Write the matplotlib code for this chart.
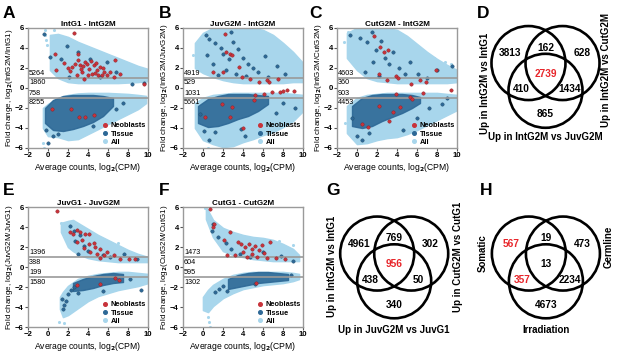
import matplotlib
matplotlib.use('Agg')
import matplotlib.pyplot as plt
from matplotlib.lines import Line2D
from matplotlib.patches import Circle

plt.rcParams['font.family'] = ['Liberation Sans', 'DejaVu Sans']
plt.rcParams['font.weight'] = 'bold'
plt.rcParams['mathtext.default'] = 'bf'

## --- Colours
c_all = '#a8d6ec'
c_tis = '#2d6896'
c_tis_edge = '#1f4a68'
c_neo = '#c8323a'
c_frame = '#9a9a9a'

## --- MA plot data
# A: IntG1 - IntG2M
a_title = 'IntG1 - IntG2M'
a_ylab = 'IntG2M/IntG1'
a_counts = [5264, 1860, 758, 8255]
a_up_x = [0.2, 1, 2, 3, 4, 5, 6, 7, 8, 9, 10]
a_up_top = [5.3, 5.4, 5.1, 4.6, 4.2, 3.8, 3.4, 3.0, 2.6, 2.2, 1.9]
a_up_bot = [1.8, 1.0, 0.6, 0.5, 0.5, 0.5, 0.5, 0.5, 0.55, 0.6, 0.7]
a_lo_x = [-0.5, 0, 1, 2, 3, 4, 5, 6, 7, 8, 9, 9.8]
a_lo_top = [-2.0, -1.6, -1.0, -0.7, -0.55, -0.5, -0.5, -0.5, -0.55, -0.6, -0.7, -0.8]
a_lo_bot = [-4.0, -4.8, -4.9, -5.2, -5.1, -4.6, -4.1, -3.6, -3.1, -2.6, -2.1, -1.5]
a_tis_x = [-0.3, 0.5, 1.5, 2.5, 3.5, 4.5, 5.5, 6.5]
a_tis_top = [-2.0, -1.2, -0.8, -0.7, -0.7, -0.7, -0.8, -1.0]
a_tis_bot = [-3.5, -4.2, -4.3, -4.1, -3.8, -3.4, -2.8, -1.8]
a_all_px = [-0.3, -0.3, -0.2, -0.1, -0.5, -0.4, 0.6, 9.5, 9.9]
a_all_py = [5.8, 5.3, 4.8, 4.3, -5.5, -6.0, 5.8, 1.6, 1.2]
a_tis_px = [-0.4, 0.2, 1.9, 4.2, 5.9, 5.2, 9.6, 2.1, 8.4, 1.3, 3.0, 6.8,
            0.0, 0.5, -0.2, 4.5, 6.8, 7.5, 1.0]
a_tis_py = [5.4, 3.1, 4.2, 2.9, 2.6, 1.1, 0.5, 1.1, 0.4, 2.9, 3.6, 1.6,
            -5.5, -4.8, -4.2, -3.8, -2.1, -1.5, -4.6]
a_neo_x = [2.6, 0.7, 3.0, 0.8, 1.6, 2.4, 3.2, 3.7, 4.1, 4.6, 4.9, 5.2, 5.6, 4.4, 3.4,
           2.9, 5.9, 6.7, 6.6, 7.2, 9.6, 3.9, 3.6, 2.0, 4.3, 5.0, 3.0, 2.2, 2.7, 3.3,
           4.0, 4.7, 5.4, 6.2, 3.5, 4.8, 5.5, 0.4, 2.3, 3.1, 3.7, 4.6]
a_neo_y = [5.5, 3.4, 3.4, 1.8, 2.5, 2.1, 2.3, 2.6, 1.9, 2.3, 1.8, 2.1, 1.6, 1.4, 1.6,
           1.3, 1.3, 2.8, 1.1, 1.4, 0.4, 2.4, 0.9, 2.0, 2.7, 1.3, 2.8, 1.7, 2.4, 1.9,
           1.3, 1.5, 1.3, 1.6, 2.2, 2.5, 2.0, -2.1, -2.1, -2.9, -2.9, -2.7]

# B: JuvG2M - IntG2M
b_title = 'JuvG2M - IntG2M'
b_ylab = 'IntG2M/JuvG2M'
b_counts = [4919, 529, 1031, 5661]
b_up_x = [-0.8, 0, 1, 2, 3, 4, 5, 6, 7, 8, 9, 10]
b_up_top = [4.5, 5.5, 6.0, 6.0, 6.0, 6.0, 6.0, 5.8, 5.3, 4.5, 3.6, 2.5]
b_up_bot = [2.0, 1.5, 1.1, 0.8, 0.6, 0.5, 0.5, 0.5, 0.5, 0.5, 0.6, 0.6]
b_lo_x = [-0.8, 0, 1, 2, 3, 4, 5, 6, 7, 8, 9, 10]
b_lo_top = [-1.5, -1.0, -0.7, -0.6, -0.5, -0.5, -0.5, -0.5, -0.5, -0.5, -0.6, -0.7]
b_lo_bot = [-4.0, -5.2, -5.6, -5.9, -5.8, -5.4, -5.1, -4.7, -4.4, -3.9, -3.3, -2.3]
b_tis_x = [-0.5, 0.5, 1.5, 2.5, 3.5, 4.5, 5.5, 6.5]
b_tis_top = [-1.8, -1.1, -0.8, -0.6, -0.6, -0.6, -0.7, -0.8]
b_tis_bot = [-3.5, -3.9, -3.8, -3.5, -3.1, -2.8, -2.3, -1.6]
b_all_px = [-0.6, -0.3, 0.1, 0.5, 1.0, -1.0, 0.5, 9.6]
b_all_py = [2.9, 3.8, 4.6, 5.3, 6.0, 3.3, -6.0, 1.8]
b_tis_px = [0.3, 0.6, 1.2, 1.8, 2.0, 2.6, 3.0, 3.5, 4.0, 4.5, 5.0, 1.0, 0.4, 2.3, 3.3,
            4.3, 5.5, 6.5, 7.4, 8.2, 2.8, 6.2, 1.5, 0.1, 0.6, 1.2, 3.8, 4.2, 7.3, 8.0,
            9.2, -0.3]
b_tis_py = [5.3, 4.9, 4.5, 4.0, 3.4, 2.9, 4.6, 3.9, 3.0, 2.4, 2.0, 2.4, 3.3, 1.8, 1.4,
            1.2, 1.6, 1.1, 2.2, 1.4, 5.6, 3.2, 1.3, -4.3, -5.2, -4.4, -4.1, -4.8, -2.5,
            -1.5, -2.0, -2.6]
b_neo_x = [2.2, 2.3, 2.7, 2.9, 3.6, 2.0, 1.0, 4.7, 5.6, 6.4, 6.1, 6.9, 7.7, 8.4, 9.1,
           5.2, 5.1, 1.9, 2.9, 0.2, 2.7, 4.0, 7.5, 8.0, 6.6, 3.9]
b_neo_y = [5.4, 3.6, 3.4, 3.3, 2.1, 1.6, 1.6, 0.9, 0.6, 0.8, -0.6, -0.4, -0.4, -0.2, -0.3,
           -0.7, -1.2, -1.6, -1.9, -2.9, -2.9, -4.0, 0.9, -0.3, 0.6, 1.1]

# C: CutG2M - IntG2M
c_title = 'CutG2M - IntG2M'
c_ylab = 'IntG2M/CutG2M'
c_counts = [4603, 360, 903, 4453]
c_up_x = [-1, 0, 1, 2, 3, 4, 5, 6, 7, 8, 9, 10]
c_up_top = [5.5, 6.0, 6.0, 6.0, 6.0, 5.8, 5.2, 4.4, 3.6, 2.9, 2.3, 1.8]
c_up_bot = [3.0, 1.8, 1.0, 0.7, 0.6, 0.5, 0.5, 0.5, 0.5, 0.5, 0.5, 0.6]
c_lo_x = [-1, 0, 1, 2, 3, 4, 5, 6, 7, 8, 9, 10]
c_lo_top = [-1.8, -1.0, -0.7, -0.6, -0.5, -0.5, -0.5, -0.5, -0.5, -0.5, -0.6, -0.7]
c_lo_bot = [-4.5, -5.6, -5.5, -5.2, -5.0, -4.9, -4.6, -4.2, -3.7, -3.2, -2.7, -2.2]
c_tis_x = [-0.5, 0.5, 1.5, 2.5, 3.5, 4.5, 5.5, 6.3]
c_tis_top = [-1.8, -1.0, -0.7, -0.6, -0.6, -0.6, -0.7, -0.9]
c_tis_bot = [-3.8, -4.0, -3.8, -3.3, -2.9, -2.5, -2.0, -1.5]
c_all_px = [-1.3, -0.9, 7.7, 8.8, 9.4, -1.2]
c_all_py = [4.6, 5.6, 3.0, 2.6, 2.4, -3.5]
c_tis_px = [-0.7, 0.3, 1.0, 1.5, 1.9, 2.4, 2.8, 3.2, 3.6, 4.2, 4.8, 5.3, 6.1, 7.0, 8.0,
            9.5, 0.8, 1.6, 2.2, 0.0, 0.5, 1.2, 4.6, 6.0, 7.2, 8.5, 9.0, -0.5]
c_tis_py = [5.3, 5.0, 4.6, 5.6, 3.8, 4.7, 3.0, 2.4, 3.6, 2.0, 1.4, 2.6, 1.4, 1.0, 1.8,
            2.2, 1.6, 2.6, 1.2, -4.8, -5.2, -4.5, -4.2, -3.0, -2.0, -1.6, -1.0, -3.0]
c_neo_x = [2.3, 2.65, 3.1, 2.2, 3.0, 3.9, 4.1, 5.4, 6.3, 7.9, 6.9, 3.9, 5.3, 5.5, 6.6,
           9.4, 2.2, 4.3, 3.6, 3.2, 0.5, 1.1, 1.7]
c_neo_y = [4.1, 3.6, 3.8, 1.4, 0.8, 1.2, 1.0, 0.4, 0.8, 1.85, 0.6, -0.6, -0.9, -1.1, -0.5,
           -0.2, -1.8, -1.9, -2.4, -3.3, -3.6, -3.9, 5.2]

# E: JuvG1 - JuvG2M
e_title = 'JuvG1 - JuvG2M'
e_ylab = 'JuvG2M/JuvG1'
e_counts = [1396, 388, 199, 1580]
e_up_x = [1.3, 2, 2.5, 3, 4, 5, 6, 7, 8, 9, 10]
e_up_top = [4.4, 4.6, 4.7, 4.4, 3.8, 3.2, 2.7, 2.2, 1.7, 1.3, 1.0]
e_up_bot = [3.5, 2.0, 1.6, 1.3, 0.9, 0.7, 0.6, 0.5, 0.5, 0.5, 0.5]
e_lo_x = [1.2, 1.5, 2, 3, 4, 5, 6, 7, 8, 9, 10]
e_lo_top = [-3.0, -2.5, -1.9, -1.2, -0.9, -0.7, -0.6, -0.5, -0.5, -0.6, -0.7]
e_lo_bot = [-4.2, -5.0, -4.8, -4.1, -3.4, -2.9, -2.6, -2.3, -2.1, -1.9, -1.6]
e_tis_x = [2.5, 3.5, 4.5, 5.5, 6.5, 7.5]
e_tis_top = [-1.6, -1.2, -0.9, -0.7, -0.6, -0.7]
e_tis_bot = [-2.4, -2.3, -2.1, -1.8, -1.6, -1.5]
e_all_px = [1.3, 1.1, 1.6, 7.0, 9.8]
e_all_py = [4.4, -5.5, -5.6, 2.4, 0.9]
e_tis_px = [2.2, 2.6, 3.2, 2.7, 3.6, 4.0, 5.5, 6.2, 7.6, 8.9, 3.0, 1.4, 1.6, 1.8, 2.0,
            2.3, 2.6, 3.0, 1.5, 8.2, 9.3, 5.5]
e_tis_py = [4.1, 3.6, 3.2, 2.6, 2.1, 1.6, 1.2, 1.0, 1.3, 0.8, 1.3, -3.2, -3.8, -3.4, -2.7,
            -2.3, -2.0, -2.6, -4.2, -1.2, -2.3, -2.4]
e_neo_x = [0.9, 2.2, 2.5, 2.9, 3.2, 3.7, 4.1, 2.9, 3.4, 4.1, 4.6, 4.7, 5.2, 5.9, 3.6,
           4.2, 4.9, 5.6, 6.6, 7.2, 8.1, 8.7, 5.2, 2.9, 5.2, 6.7, 7.1]
e_neo_y = [5.6, 3.5, 3.3, 3.7, 3.5, 3.3, 3.3, 2.5, 2.7, 2.3, 2.4, 2.0, 1.8, 1.5, 1.9,
           1.5, 1.3, 1.2, 1.2, 0.8, 0.8, 0.8, 0.9, -1.8, -1.7, -1.1, -1.3]

# F: CutG1 - CutG2M
f_title = 'CutG1 - CutG2M'
f_ylab = 'CutG2M/CutG1'
f_counts = [1473, 604, 595, 1302]
f_up_x = [0.3, 1, 2, 3, 4, 5, 6, 7, 8, 9, 9.6]
f_up_top = [6.0, 4.7, 3.9, 3.5, 3.2, 3.0, 2.9, 2.7, 2.3, 1.8, 1.2]
f_up_bot = [4.8, 3.0, 1.6, 1.2, 1.0, 0.8, 0.7, 0.6, 0.6, 0.6, 0.6]
f_lo_x = [0, 0.5, 1, 2, 3, 4, 5, 6, 7, 8, 9, 9.6]
f_lo_top = [-3.0, -2.3, -1.8, -1.2, -0.8, -0.6, -0.5, -0.5, -0.5, -0.5, -0.6, -0.7]
f_lo_bot = [-4.3, -4.5, -3.9, -3.1, -2.6, -2.2, -2.0, -1.8, -1.7, -1.6, -1.4, -1.2]
f_tis_x = [2.5, 3.5, 4.5, 5.5, 6.5, 7.5, 8.5]
f_tis_top = [-1.2, -0.8, -0.6, -0.5, -0.5, -0.6, -0.7]
f_tis_bot = [-2.2, -2.0, -1.8, -1.6, -1.5, -1.4, -1.3]
f_all_px = [0.5, 0.6, 0.7, 0.4, 0.2, 7.6, 9.0]
f_all_py = [-5.0, -5.5, -6.0, 5.6, 5.9, 2.6, 2.2]
f_tis_px = [1.0, 0.9, 1.5, 2.3, 2.8, 3.7, 4.7, 6.0, 7.8, 9.0, 1.2, 1.6, 2.0, 2.4, 5.2, 8.8]
f_tis_py = [4.3, 3.6, 3.0, 2.4, 1.8, 1.3, 1.0, 1.5, 1.1, 0.6, -2.5, -2.2, -1.9, -2.4, -1.7, -0.8]
f_neo_x = [0.7, 1.1, 1.0, 2.7, 2.1, 3.5, 3.8, 4.2, 4.6, 4.9, 5.2, 5.6, 5.9, 6.7, 6.1,
           4.0, 4.9, 3.2, 4.4, 5.4, 6.4, 7.3, 8.2, 2.4, 5.3]
f_neo_y = [5.8, 4.3, 4.0, 3.5, 2.7, 2.5, 2.3, 2.0, 2.3, 1.8, 2.1, 1.7, 2.2, 2.5, 1.4,
           1.5, 1.3, 1.2, 1.0, 1.0, 0.9, 0.9, 0.8, 1.2, -1.6]

## --- Venn data
d_counts = [3813, 162, 628, 2739, 410, 1434, 865]
d_labels = ['Up in IntG2M vs IntG1', 'Up in IntG2M vs CutG2M', 'Up in IntG2M vs JuvG2M']
d_red = [3]
g_counts = [4961, 769, 302, 956, 438, 50, 340]
g_labels = ['Up in IntG2M vs IntG1', 'Up in CutG2M vs CutG1', 'Up in JuvG2M vs JuvG1']
g_red = [3]
h_counts = [567, 19, 473, 13, 357, 2234, 4673]
h_labels = ['Somatic', 'Germline', 'Irradiation']
h_red = [0, 4]

W, H = 617, 355
fig = plt.figure(figsize=(W / 100, H / 100), dpi=100)


def px_axes(l, t, r, b):
    return fig.add_axes([l / W, 1 - b / H, (r - l) / W, (b - t) / H])


def ma_plot(rect, title, ylab, counts, up, lo, tis, all_pts, tis_pts, neo_pts):
    ax = px_axes(*rect)
    ax.fill_between(up[0], up[1], up[2], color=c_all, lw=1.2, edgecolor=c_all)
    ax.fill_between(lo[0], lo[1], lo[2], color=c_all, lw=1.2, edgecolor=c_all)
    ax.scatter(all_pts[0], all_pts[1], s=5, color=c_all, lw=0)
    ax.fill_between(tis[0], tis[1], tis[2], color=c_tis, lw=1.0, edgecolor=c_tis, alpha=0.9)
    ax.scatter(tis_pts[0], tis_pts[1], s=6, color=c_tis, edgecolor=c_tis_edge, lw=0.3)
    ax.scatter(neo_pts[0], neo_pts[1], s=6, color=c_neo, edgecolor='#8a1f25', lw=0.3, zorder=4)
    ax.axhline(1, color=c_frame, lw=1.2)
    ax.axhline(-1, color=c_frame, lw=1.2)
    fs = 5.2
    ax.text(-1.9, 1.12, str(counts[0]), fontsize=fs, weight='normal', va='bottom')
    ax.text(-1.9, 0.85, str(counts[1]), fontsize=fs, weight='normal', va='top')
    ax.text(-1.9, -0.88, str(counts[2]), fontsize=fs, weight='normal', va='bottom')
    ax.text(-1.9, -1.15, str(counts[3]), fontsize=fs, weight='normal', va='top')
    ax.set_xlim(-2, 10)
    ax.set_ylim(-6, 6)
    ax.set_xticks(range(-2, 11, 2))
    ax.set_yticks(range(-6, 7, 2))
    ax.tick_params(labelsize=5.6, length=2, width=0.8, pad=1, color='#555555')
    for s in ax.spines.values():
        s.set_color(c_frame)
        s.set_linewidth(1.0)
    ax.set_title(title, fontsize=5.8, weight='bold', pad=1.5)
    ax.set_xlabel('Average counts, log$_2$(CPM)', fontsize=6.2, labelpad=1)
    ax.set_ylabel('Fold change, log$_2$(' + ylab + ')', fontsize=5.8, labelpad=0)
    handles = [Line2D([], [], marker='o', ls='', ms=2.6, color=c_neo),
               Line2D([], [], marker='o', ls='', ms=2.6, color=c_tis),
               Line2D([], [], marker='o', ls='', ms=2.6, color=c_all)]
    ax.legend(handles, ['Neoblasts', 'Tissue', 'All'], loc='lower right', frameon=False,
              fontsize=5.3, handletextpad=0.1, labelspacing=0.15, borderaxespad=0.1,
              handlelength=1.2, borderpad=0.2)
    return ax


ma_plot((28, 28, 148, 148), a_title, a_ylab, a_counts,
        (a_up_x, a_up_top, a_up_bot), (a_lo_x, a_lo_top, a_lo_bot),
        (a_tis_x, a_tis_top, a_tis_bot), (a_all_px, a_all_py),
        (a_tis_px, a_tis_py), (a_neo_x, a_neo_y))
ma_plot((183, 28, 303, 148), b_title, b_ylab, b_counts,
        (b_up_x, b_up_top, b_up_bot), (b_lo_x, b_lo_top, b_lo_bot),
        (b_tis_x, b_tis_top, b_tis_bot), (b_all_px, b_all_py),
        (b_tis_px, b_tis_py), (b_neo_x, b_neo_y))
ma_plot((337, 28, 457, 148), c_title, c_ylab, c_counts,
        (c_up_x, c_up_top, c_up_bot), (c_lo_x, c_lo_top, c_lo_bot),
        (c_tis_x, c_tis_top, c_tis_bot), (c_all_px, c_all_py),
        (c_tis_px, c_tis_py), (c_neo_x, c_neo_y))
ma_plot((28, 207, 148, 327), e_title, e_ylab, e_counts,
        (e_up_x, e_up_top, e_up_bot), (e_lo_x, e_lo_top, e_lo_bot),
        (e_tis_x, e_tis_top, e_tis_bot), (e_all_px, e_all_py),
        (e_tis_px, e_tis_py), (e_neo_x, e_neo_y))
ma_plot((183, 207, 303, 327), f_title, f_ylab, f_counts,
        (f_up_x, f_up_top, f_up_bot), (f_lo_x, f_lo_top, f_lo_bot),
        (f_tis_x, f_tis_top, f_tis_bot), (f_all_px, f_all_py),
        (f_tis_px, f_tis_py), (f_neo_x, f_neo_y))

# Venn layout (circle radius = 1)
centres = [(-0.46, 0.25), (0.46, 0.25), (0.0, -0.5)]
region_pos = [(-0.95, 0.52), (0.0, 0.67), (0.98, 0.52), (0.0, -0.04),
              (-0.65, -0.46), (0.65, -0.46), (0.0, -1.13)]


def venn(cx, cy, counts, labels, red, lab_pos):
    r_px = 37
    half = 70
    ax = px_axes(cx - half, cy - half, cx + half, cy + half)
    lim = half / r_px
    ax.set_xlim(-lim, lim)
    ax.set_ylim(-lim, lim)
    ax.axis('off')
    for c in centres:
        ax.add_patch(Circle(c, 1.0, fill=False, lw=1.9, color='black'))
    for i, (n, p) in enumerate(zip(counts, region_pos)):
        ax.text(p[0], p[1], str(n), ha='center', va='center', fontsize=7.3,
                weight='bold', color='#e8262b' if i in red else 'black')
    (lx, ly), (rx, ry), (bx, by) = lab_pos
    ax.text(lx, ly, labels[0], rotation=90, ha='center', va='center', fontsize=7, clip_on=False)
    ax.text(rx, ry, labels[1], rotation=90, ha='center', va='center', fontsize=7, clip_on=False)
    ax.text(bx, by, labels[2], ha='center', va='center', fontsize=7, clip_on=False)


venn(545.5, 72.3, d_counts, d_labels, d_red, [(-1.64, -0.29), (1.64, 0.06), (0.0, -1.75)])
venn(394.2, 262.8, g_counts, g_labels, g_red, [(-1.67, -0.1), (1.72, 0.17), (0.0, -1.81)])
venn(545.9, 262.8, h_counts, h_labels, h_red, [(-1.72, 0.27), (1.69, 0.44), (0.0, -1.81)])

# Panel letters
for letter, x, y in [('A', 9, 14), ('B', 165, 14), ('C', 315, 13), ('D', 483, 13),
                     ('E', 9, 191), ('F', 164, 191), ('G', 333, 191), ('H', 486, 191)]:
    fig.text(x / W, 1 - y / H, letter, fontsize=12.5, weight='bold', ha='center', va='center')

fig.savefig('out.png', dpi=100)
